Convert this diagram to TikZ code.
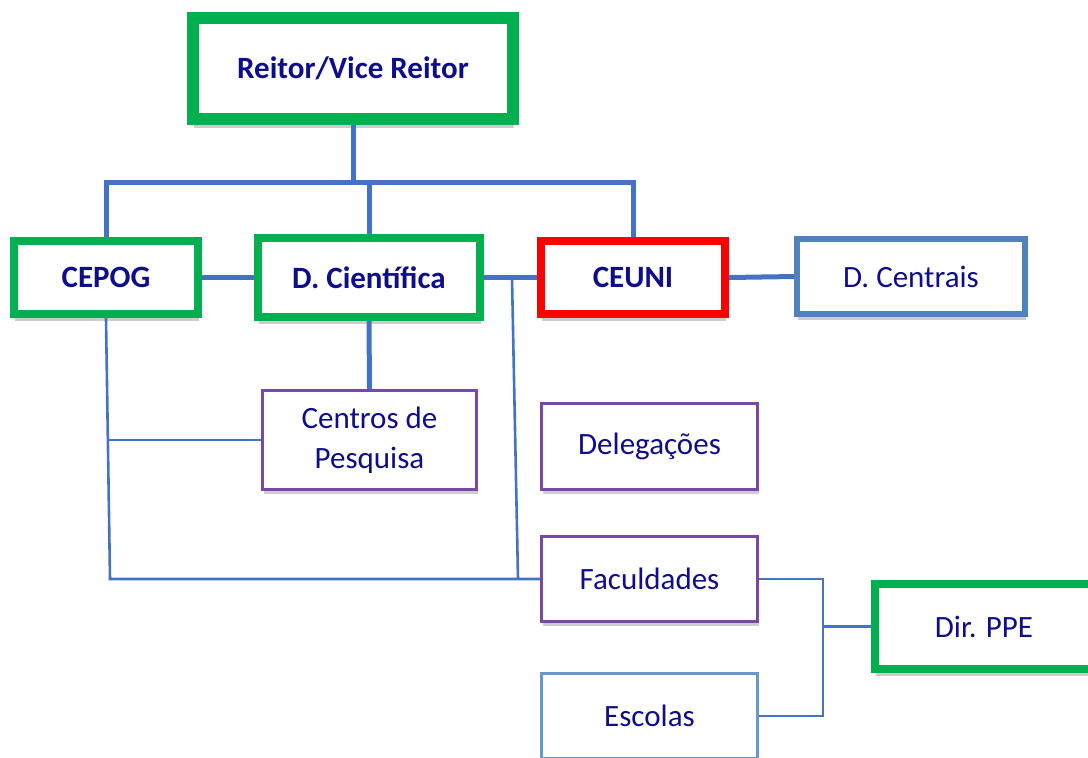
\documentclass[tikz,border=0pt]{standalone}
\usepackage{fontspec}
\setmainfont{Carlito}
\usepackage{xcolor}
\usepackage{tikz}
\usetikzlibrary{shadows}

\definecolor{navytext}{RGB}{14,14,140}
\definecolor{boxgreen}{RGB}{0,176,80}
\definecolor{boxred}{RGB}{255,0,0}
\definecolor{linkblue}{RGB}{68,114,196}
\definecolor{steelblue}{RGB}{79,129,189}
\definecolor{boxpurple}{RGB}{120,72,164}
\definecolor{paleblue}{RGB}{104,150,208}

\tikzset{
    unit/.style={draw, fill=white, text=navytext, align=center, inner sep=0pt,
        font=\fontsize{15.5}{20}\selectfont},
    headbox/.style={unit, draw=boxgreen, line width=6pt,
        font=\fontsize{15.5}{20}\selectfont\bfseries,
        drop shadow={shadow xshift=0.6pt, shadow yshift=-4.5pt, opacity=0.2, fill=black}},
    greenbox/.style={unit, draw=boxgreen, line width=4pt,
        font=\fontsize{15.5}{20}\selectfont\bfseries,
        drop shadow={shadow xshift=0.6pt, shadow yshift=-3.5pt, opacity=0.2, fill=black}},
    redbox/.style={greenbox, draw=boxred},
    steelbox/.style={unit, draw=steelblue, line width=3pt,
        drop shadow={shadow xshift=0.6pt, shadow yshift=-3pt, opacity=0.2, fill=black}},
    purplebox/.style={unit, draw=boxpurple, line width=1.5pt,
        drop shadow={shadow xshift=0.6pt, shadow yshift=-2pt, opacity=0.2, fill=black}},
    palebox/.style={purplebox, draw=paleblue},
    ppebox/.style={unit, draw=boxgreen, line width=4pt,
        drop shadow={shadow xshift=0.6pt, shadow yshift=-3.5pt, opacity=0.2, fill=black}},
    link/.style={draw=linkblue, line width=2.5pt},
    thinlink/.style={draw=linkblue, line width=1.3pt}
}

\begin{document}
\begin{tikzpicture}[x=0.5pt, y=-0.5pt]
        \useasboundingbox (0,0) rectangle (1088,757);

        \node[headbox, minimum width=159.75pt, minimum height=50.5pt] (reitor) at (353,68.5) {Reitor/Vice Reitor};
        \node[greenbox, minimum width=91.8pt, minimum height=36.5pt] (cepog) at (106,277.5) {CEPOG};
        \node[greenbox, minimum width=110.75pt, minimum height=39.5pt] (dcien) at (369,277.5) {D. Científica};
        \node[redbox, minimum width=92pt, minimum height=36.5pt] (ceuni) at (633,277.5) {CEUNI};
        \node[steelbox, minimum width=114pt, minimum height=37.5pt] (dcent) at (911,276.5) {D. Centrais};
        \node[purplebox, minimum width=107pt, minimum height=49.5pt] (centros) at (369.5,440) {Centros de\\Pesquisa};
        \node[purplebox, minimum width=108pt, minimum height=43pt] (deleg) at (649.5,446.5) {Delegações};
        \node[purplebox, minimum width=108pt, minimum height=42.5pt] (facul) at (649.5,579) {Faculdades};
        \node[palebox, minimum width=108pt, minimum height=42.5pt] (escolas) at (649.5,716) {Escolas};
        \node[ppebox, minimum width=109pt, minimum height=42.5pt] (ppe) at (984,626.5) {Dir. PPE};

        \coordinate (busL) at (106,182);
        \coordinate (busR) at (633,182);
        \coordinate (tap) at (512,278);
        \coordinate (join) at (518,579);
        \coordinate (cornerL) at (110,579);
        \coordinate (tapL) at (108,440);
        \coordinate (bracketT) at (823,579);
        \coordinate (bracketB) at (823,716);

        % Reitor -> CEPOG, D. Cientifica, CEUNI
        \draw[link] (reitor.south) -- (reitor.south |- busL);
        \draw[link] (cepog.north) -- (busL) -- (busR) -- (ceuni.north);
        \draw[link] (dcien.north |- busL) -- (dcien.north);

        % same row
        \draw[link] (cepog.east) -- (dcien.west);
        \draw[link] (dcien.east) -- (ceuni.west);
        \draw[link] (ceuni.east) -- (dcent.west);

        % D. Cientifica -> Centros
        \draw[link] (dcien.south) -- (centros.north);

        % CEPOG -> Centros, Faculdades
        \draw[thinlink] (cepog.south) -- (cornerL) -- (facul.west);
        \draw[thinlink] (tapL) -- (centros.west);

        % D. Cientifica -> Faculdades
        \draw[thinlink] (tap) -- (join);

        % Faculdades, Escolas -> Dir. PPE
        \draw[thinlink] (facul.east) -- (bracketT) -- (bracketB) -- (escolas.east);
        \draw[thinlink] (ppe.west -| bracketT) -- (ppe.west);
    \end{tikzpicture}
\end{document}
